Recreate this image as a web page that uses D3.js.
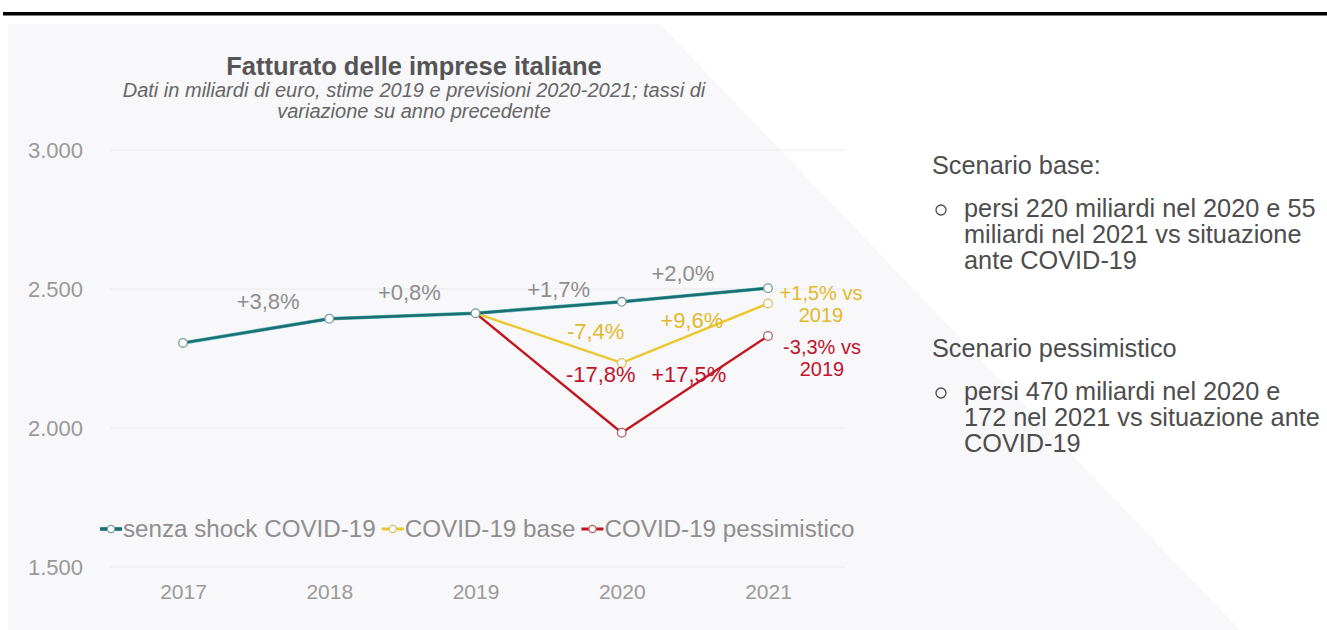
<!DOCTYPE html>
<html><head><meta charset="utf-8">
<script src="https://cdn.jsdelivr.net/npm/d3@7/dist/d3.min.js"></script>
<style>
html,body{margin:0;padding:0;background:#fff;}
svg{display:block;font-family:"Liberation Sans",Arial,sans-serif;}
</style></head><body>
<svg id="c" width="1327" height="630"></svg>
<script>
const years = ["2017","2018","2019","2020","2021"];
const yTicks = [1500, 2000, 2500, 3000];
const senzaShock = [2306, 2393, 2413, 2454, 2503];
const covidBase = [null, null, 2413, 2234, 2448];
const covidPessimistico = [null, null, 2413, 1983, 2331];
const seriesNames = ["senza shock COVID-19", "COVID-19 base", "COVID-19 pessimistico"];
const growthSenza = ["+3,8%", "+0,8%", "+1,7%", "+2,0%"];
const growthBase = ["-7,4%", "+9,6%"];
const growthPess = ["-17,8%", "+17,5%"];
const endBase = ["+1,5% vs", "2019"];
const endPess = ["-3,3% vs", "2019"];
const titleText = "Fatturato delle imprese italiane";
const subtitleLines = ["Dati in miliardi di euro, stime 2019 e previsioni 2020-2021; tassi di", "variazione su anno precedente"];
const sideText = [
  {head:"Scenario base:", lines:["persi 220 miliardi nel 2020 e 55","miliardi nel 2021 vs situazione","ante COVID-19"]},
  {head:"Scenario pessimistico", lines:["persi 470 miliardi nel 2020 e","172 nel 2021 vs situazione ante","COVID-19"]}
];

const svg = d3.select("#c");
const colors = {teal:"#1f6d6e", tealEdge:"#46b4ba", yellow:"#ecc830", red:"#c2161f", grey:"#8e8e8e", yLab:"#e0ba2c", rLab:"#c0142a"};

// background
svg.append("rect").attr("width",1327).attr("height",630).attr("fill","#ffffff");
svg.append("path").attr("d","M8,24 L660,24 L1240,630 L8,630 Z").attr("fill","#f8f7f9");
svg.append("rect").attr("x",3).attr("y",12).attr("width",1324).attr("height",3.5).attr("fill","#000");

const x = d3.scalePoint().domain(years).range([183, 768]);
const y = d3.scaleLinear().domain([1500, 3000]).range([567, 150]);

// grid
svg.append("g").selectAll("line").data(yTicks).join("line")
  .attr("x1",110).attr("x2",845).attr("y1",d=>y(d)).attr("y2",d=>y(d))
  .attr("stroke","#ebeaec").attr("stroke-width",1);

// y axis labels
const yAxis = d3.axisLeft(y).tickValues(yTicks).tickSize(0).tickPadding(0)
  .tickFormat(d=>d3.format(",")(d).replace(/,/g,"."));
const gy = svg.append("g").attr("transform","translate(83,0)").call(yAxis);
gy.select(".domain").remove();
gy.selectAll("text").attr("font-size",22).attr("fill","#9a9a9a").attr("font-family","Liberation Sans, Arial, sans-serif").attr("dy","0.35em");

// x axis labels
const xAxis = d3.axisBottom(x).tickSize(0).tickPadding(0);
const gx = svg.append("g").attr("transform","translate(0,592)").call(xAxis);
gx.select(".domain").remove();
gx.selectAll("text").attr("font-size",21).attr("fill","#9a9a9a").attr("font-family","Liberation Sans, Arial, sans-serif").attr("dy","0.35em");

// lines
const line = d3.line().defined(d=>d.v!=null).x(d=>x(d.k)).y(d=>y(d.v));
function toPts(arr){ return years.map((k,i)=>({k, v:arr[i]})); }
function drawSeries(arr, col, edge){
  const pts = toPts(arr);
  if(edge) svg.append("path").datum(pts).attr("d",line).attr("fill","none").attr("stroke",edge).attr("stroke-width",3.6).attr("stroke-linejoin","round");
  svg.append("path").datum(pts).attr("d",line).attr("fill","none").attr("stroke",col).attr("stroke-width",2.4).attr("stroke-linejoin","round");
  return pts;
}
const pPess = drawSeries(covidPessimistico, colors.red);
const pBase = drawSeries(covidBase, colors.yellow);
const pSenza = drawSeries(senzaShock, colors.teal, colors.tealEdge);
function drawMarkers(pts, col, skip2019){
  svg.append("g").selectAll("circle").data(pts.filter(d=>d.v!=null && !(skip2019 && d.k==="2019"))).join("circle")
    .attr("cx",d=>x(d.k)).attr("cy",d=>y(d.v)).attr("r",4.3)
    .attr("fill","#fff").attr("stroke",col).attr("stroke-width",1.3);
}
drawMarkers(pPess, "#b86060", true);
drawMarkers(pBase, "#d8c060", true);
drawMarkers(pSenza, "#7a9a9c", false);

// growth labels (offsets relative to scale positions)
function mid(i){ return (x(years[i]) + x(years[i+1]))/2; }
const senzaDx = [12, 7, 10, -12];
const senzaDy = [-17, -21, -12, -15];
svg.append("g").selectAll("text").data(growthSenza).join("text")
  .attr("x",(d,i)=>mid(i)+senzaDx[i])
  .attr("y",(d,i)=>y(senzaShock[i+1])+senzaDy[i])
  .attr("text-anchor","middle").attr("dy","0.35em").attr("font-size",22).attr("fill",colors.grey).text(d=>d);

svg.append("g").selectAll("text").data(growthBase).join("text")
  .attr("x",(d,i)=>mid(i+2) + (i===0? 47: -3))
  .attr("y",(d,i)=>y(covidBase[3]) + (i===0? -32: -43))
  .attr("text-anchor","middle").attr("dy","0.35em").attr("font-size",22).attr("fill",colors.yLab).text(d=>d);
svg.append("g").selectAll("text").data(growthPess).join("text")
  .attr("x",(d,i)=>x(years[3]) + (i===0? -21: 67))
  .attr("y",(d,i)=>y(covidPessimistico[3]) - 58)
  .attr("text-anchor","middle").attr("dy","0.35em").attr("font-size",22).attr("fill",colors.rLab).text(d=>d);

svg.append("g").selectAll("text").data(endBase).join("text")
  .attr("x",x("2021")+53).attr("y",(d,i)=>y(covidBase[4]) - 10 + i*22)
  .attr("text-anchor","middle").attr("dy","0.35em").attr("font-size",20).attr("fill",colors.yLab).text(d=>d);
svg.append("g").selectAll("text").data(endPess).join("text")
  .attr("x",x("2021")+54).attr("y",(d,i)=>y(covidPessimistico[4]) + 11 + i*22)
  .attr("text-anchor","middle").attr("dy","0.35em").attr("font-size",20).attr("fill",colors.rLab).text(d=>d);

// title
svg.append("text").attr("x",414).attr("y",75).attr("text-anchor","middle").attr("font-size",25.5).attr("font-weight","bold").attr("fill","#555").text(titleText);
svg.append("g").selectAll("text").data(subtitleLines).join("text")
  .attr("x",414).attr("y",(d,i)=>97+i*21).attr("text-anchor","middle").attr("font-size",20).attr("font-style","italic").attr("fill","#666").text(d=>d);

// legend
const legCols = [colors.teal, colors.yellow, colors.red];
const legEdge = [colors.tealEdge, null, null];
const legMark = ["#7a9a9c","#d8c060","#b86060"];
let lx = 100;
const ly = 529;
seriesNames.forEach((n,i)=>{
  const g = svg.append("g");
  if(legEdge[i]) g.append("line").attr("x1",lx).attr("x2",lx+22).attr("y1",ly).attr("y2",ly).attr("stroke",legEdge[i]).attr("stroke-width",4);
  g.append("line").attr("x1",lx).attr("x2",lx+22).attr("y1",ly).attr("y2",ly).attr("stroke",legCols[i]).attr("stroke-width",3);
  g.append("circle").attr("cx",lx+11).attr("cy",ly).attr("r",3.6).attr("fill","#fff").attr("stroke",legMark[i]).attr("stroke-width",1.2);
  const t = g.append("text").attr("x",lx+23).attr("y",ly).attr("dy","0.35em").attr("font-size",24.2).attr("fill","#8e8e8e").text(n);
  lx += 23 + t.node().getComputedTextLength() + 6;
});

// side text
const sideG = svg.append("g").attr("fill","#4d4d4d").attr("font-size",25.3);
const heads = [174, 357];
sideText.forEach((s,si)=>{
  sideG.append("text").attr("x",932).attr("y",heads[si]).text(s.head);
  s.lines.forEach((l,li)=>{
    const by = heads[si] + 43 + li*26;
    if(li===0) sideG.append("circle").attr("cx",941).attr("cy",by-7).attr("r",5).attr("fill","none").attr("stroke","#4d4d4d").attr("stroke-width",1.3);
    sideG.append("text").attr("x",964).attr("y",by).text(l);
  });
});
</script>
</body></html>
